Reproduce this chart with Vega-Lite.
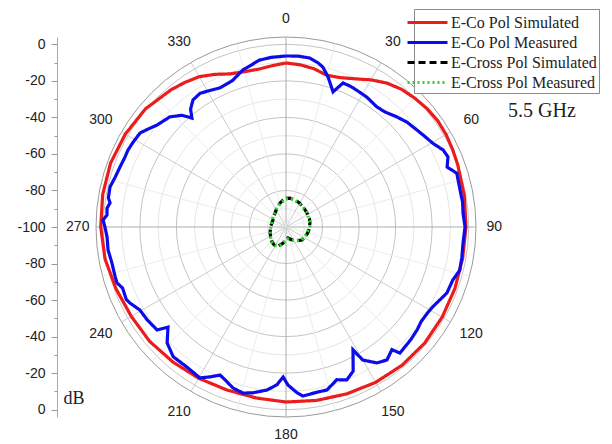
{
  "$schema": "https://vega.github.io/schema/vega-lite/v6.json",
  "width": 380,
  "height": 380,
  "autosize": {"type": "none"},
  "padding": {"left": 96, "top": 37, "right": 136, "bottom": 27},
  "background": "white",
  "config": {"view": {"stroke": null}, "font": "Liberation Sans"},
  "title": {"text": "5.5 GHz", "anchor": "start", "frame": "group", "orient": "top", "offset": 0, "dx": 412, "dy": 128, "baseline": "alphabetic", "font": "Liberation Serif", "fontSize": 20, "fontWeight": "normal", "color": "#222"},
  "resolve": {"axis": {"y": "independent"}},
  "datasets": {
    "rings": [{"r": 10}, {"r": 20}, {"r": 30}, {"r": 40}, {"r": 50}, {"r": 60}, {"r": 70}, {"r": 80}, {"r": 90}, {"r": 100}, {"r": 104}],
    "spokes": [{"a": 0}, {"a": 15}, {"a": 30}, {"a": 45}, {"a": 60}, {"a": 75}, {"a": 90}, {"a": 105}, {"a": 120}, {"a": 135}, {"a": 150}, {"a": 165}, {"a": 180}, {"a": 195}, {"a": 210}, {"a": 225}, {"a": 240}, {"a": 255}, {"a": 270}, {"a": 285}, {"a": 300}, {"a": 315}, {"a": 330}, {"a": 345}],
    "angles": [{"a": 0}, {"a": 30}, {"a": 60}, {"a": 90}, {"a": 120}, {"a": 150}, {"a": 180}, {"a": 210}, {"a": 240}, {"a": 270}, {"a": 300}, {"a": 330}],
    "pattern": [
      {"series": "E-Co Pol Simulated", "angle": 0, "dB": -10.2},
      {"series": "E-Co Pol Simulated", "angle": 5, "dB": -10.9},
      {"series": "E-Co Pol Simulated", "angle": 10, "dB": -12},
      {"series": "E-Co Pol Simulated", "angle": 15, "dB": -14},
      {"series": "E-Co Pol Simulated", "angle": 20, "dB": -13},
      {"series": "E-Co Pol Simulated", "angle": 25, "dB": -10.5},
      {"series": "E-Co Pol Simulated", "angle": 30, "dB": -7},
      {"series": "E-Co Pol Simulated", "angle": 35, "dB": -3.8},
      {"series": "E-Co Pol Simulated", "angle": 40, "dB": -1.6},
      {"series": "E-Co Pol Simulated", "angle": 45, "dB": -0.3},
      {"series": "E-Co Pol Simulated", "angle": 50, "dB": 0.8},
      {"series": "E-Co Pol Simulated", "angle": 55, "dB": 1.4},
      {"series": "E-Co Pol Simulated", "angle": 60, "dB": 1.2},
      {"series": "E-Co Pol Simulated", "angle": 65, "dB": 0.6},
      {"series": "E-Co Pol Simulated", "angle": 70, "dB": 0},
      {"series": "E-Co Pol Simulated", "angle": 80, "dB": -0.9},
      {"series": "E-Co Pol Simulated", "angle": 90, "dB": -1.5},
      {"series": "E-Co Pol Simulated", "angle": 100, "dB": -1.8},
      {"series": "E-Co Pol Simulated", "angle": 110, "dB": -1.6},
      {"series": "E-Co Pol Simulated", "angle": 120, "dB": -1.3},
      {"series": "E-Co Pol Simulated", "angle": 130, "dB": -1},
      {"series": "E-Co Pol Simulated", "angle": 140, "dB": -1.2},
      {"series": "E-Co Pol Simulated", "angle": 150, "dB": -1.8},
      {"series": "E-Co Pol Simulated", "angle": 160, "dB": -2.8},
      {"series": "E-Co Pol Simulated", "angle": 170, "dB": -3.6},
      {"series": "E-Co Pol Simulated", "angle": 180, "dB": -4.2},
      {"series": "E-Co Pol Simulated", "angle": 190, "dB": -5},
      {"series": "E-Co Pol Simulated", "angle": 200, "dB": -5.1},
      {"series": "E-Co Pol Simulated", "angle": 210, "dB": -4.4},
      {"series": "E-Co Pol Simulated", "angle": 220, "dB": -3.6},
      {"series": "E-Co Pol Simulated", "angle": 230, "dB": -2.6},
      {"series": "E-Co Pol Simulated", "angle": 240, "dB": -2.2},
      {"series": "E-Co Pol Simulated", "angle": 250, "dB": -1},
      {"series": "E-Co Pol Simulated", "angle": 260, "dB": 0.6},
      {"series": "E-Co Pol Simulated", "angle": 270, "dB": 1.4},
      {"series": "E-Co Pol Simulated", "angle": 280, "dB": 1.9},
      {"series": "E-Co Pol Simulated", "angle": 290, "dB": 2.2},
      {"series": "E-Co Pol Simulated", "angle": 300, "dB": 1.6},
      {"series": "E-Co Pol Simulated", "angle": 310, "dB": 0.5},
      {"series": "E-Co Pol Simulated", "angle": 320, "dB": -2},
      {"series": "E-Co Pol Simulated", "angle": 325, "dB": -3.4},
      {"series": "E-Co Pol Simulated", "angle": 330, "dB": -5},
      {"series": "E-Co Pol Simulated", "angle": 335, "dB": -7.8},
      {"series": "E-Co Pol Simulated", "angle": 340, "dB": -10.8},
      {"series": "E-Co Pol Simulated", "angle": 345, "dB": -12},
      {"series": "E-Co Pol Simulated", "angle": 350, "dB": -12.3},
      {"series": "E-Co Pol Simulated", "angle": 355, "dB": -11.4},
      {"series": "E-Co Pol Simulated", "angle": 360, "dB": -10.2},
      {"series": "E-Co Pol Measured", "angle": 0, "dB": -6.4},
      {"series": "E-Co Pol Measured", "angle": 4, "dB": -6.2},
      {"series": "E-Co Pol Measured", "angle": 8, "dB": -6.6},
      {"series": "E-Co Pol Measured", "angle": 11, "dB": -8.4},
      {"series": "E-Co Pol Measured", "angle": 13, "dB": -10.2},
      {"series": "E-Co Pol Measured", "angle": 15.6, "dB": -14.6},
      {"series": "E-Co Pol Measured", "angle": 17.5, "dB": -18.5},
      {"series": "E-Co Pol Measured", "angle": 19.2, "dB": -21.7},
      {"series": "E-Co Pol Measured", "angle": 21.6, "dB": -15.2},
      {"series": "E-Co Pol Measured", "angle": 24.5, "dB": -15.3},
      {"series": "E-Co Pol Measured", "angle": 27.4, "dB": -15.7},
      {"series": "E-Co Pol Measured", "angle": 32, "dB": -16.3},
      {"series": "E-Co Pol Measured", "angle": 37.2, "dB": -17.6},
      {"series": "E-Co Pol Measured", "angle": 41, "dB": -16.8},
      {"series": "E-Co Pol Measured", "angle": 45, "dB": -14.6},
      {"series": "E-Co Pol Measured", "angle": 49, "dB": -12.4},
      {"series": "E-Co Pol Measured", "angle": 53.5, "dB": -10.8},
      {"series": "E-Co Pol Measured", "angle": 57, "dB": -9.2},
      {"series": "E-Co Pol Measured", "angle": 60.3, "dB": -7.5},
      {"series": "E-Co Pol Measured", "angle": 63.9, "dB": -4.2},
      {"series": "E-Co Pol Measured", "angle": 66.6, "dB": -3.4},
      {"series": "E-Co Pol Measured", "angle": 69.6, "dB": -5.9},
      {"series": "E-Co Pol Measured", "angle": 72.5, "dB": -2},
      {"series": "E-Co Pol Measured", "angle": 78, "dB": -2.6},
      {"series": "E-Co Pol Measured", "angle": 82, "dB": -2.4},
      {"series": "E-Co Pol Measured", "angle": 85.5, "dB": -2.8},
      {"series": "E-Co Pol Measured", "angle": 90, "dB": -2},
      {"series": "E-Co Pol Measured", "angle": 95, "dB": -2.7},
      {"series": "E-Co Pol Measured", "angle": 100, "dB": -2.3},
      {"series": "E-Co Pol Measured", "angle": 104, "dB": -2},
      {"series": "E-Co Pol Measured", "angle": 107.6, "dB": -4.2},
      {"series": "E-Co Pol Measured", "angle": 112.3, "dB": -4.8},
      {"series": "E-Co Pol Measured", "angle": 118.6, "dB": -8.6},
      {"series": "E-Co Pol Measured", "angle": 122, "dB": -9.5},
      {"series": "E-Co Pol Measured", "angle": 125, "dB": -9.7},
      {"series": "E-Co Pol Measured", "angle": 128, "dB": -8.8},
      {"series": "E-Co Pol Measured", "angle": 132, "dB": -8},
      {"series": "E-Co Pol Measured", "angle": 135, "dB": -7.6},
      {"series": "E-Co Pol Measured", "angle": 137.9, "dB": -7},
      {"series": "E-Co Pol Measured", "angle": 139.2, "dB": -11.3},
      {"series": "E-Co Pol Measured", "angle": 142.8, "dB": -8.6},
      {"series": "E-Co Pol Measured", "angle": 146.2, "dB": -10.5},
      {"series": "E-Co Pol Measured", "angle": 150, "dB": -15.9},
      {"series": "E-Co Pol Measured", "angle": 151.4, "dB": -23.4},
      {"series": "E-Co Pol Measured", "angle": 155, "dB": -13},
      {"series": "E-Co Pol Measured", "angle": 158.3, "dB": -9.9},
      {"series": "E-Co Pol Measured", "angle": 161.6, "dB": -11.9},
      {"series": "E-Co Pol Measured", "angle": 165.9, "dB": -8},
      {"series": "E-Co Pol Measured", "angle": 169.4, "dB": -8},
      {"series": "E-Co Pol Measured", "angle": 174.3, "dB": -7},
      {"series": "E-Co Pol Measured", "angle": 176.2, "dB": -9.1},
      {"series": "E-Co Pol Measured", "angle": 179.3, "dB": -13.5},
      {"series": "E-Co Pol Measured", "angle": 181.1, "dB": -17.9},
      {"series": "E-Co Pol Measured", "angle": 183.3, "dB": -13.5},
      {"series": "E-Co Pol Measured", "angle": 186.6, "dB": -10.2},
      {"series": "E-Co Pol Measured", "angle": 191.2, "dB": -7.5},
      {"series": "E-Co Pol Measured", "angle": 194.5, "dB": -6.1},
      {"series": "E-Co Pol Measured", "angle": 198.2, "dB": -7.2},
      {"series": "E-Co Pol Measured", "angle": 201.7, "dB": -9.9},
      {"series": "E-Co Pol Measured", "angle": 204, "dB": -11.3},
      {"series": "E-Co Pol Measured", "angle": 206.9, "dB": -8},
      {"series": "E-Co Pol Measured", "angle": 209.7, "dB": -4.9},
      {"series": "E-Co Pol Measured", "angle": 215.3, "dB": -6.1},
      {"series": "E-Co Pol Measured", "angle": 221, "dB": -5.9},
      {"series": "E-Co Pol Measured", "angle": 225.7, "dB": -9.1},
      {"series": "E-Co Pol Measured", "angle": 229.7, "dB": -15.3},
      {"series": "E-Co Pol Measured", "angle": 231.4, "dB": -9.7},
      {"series": "E-Co Pol Measured", "angle": 236.2, "dB": -8.6},
      {"series": "E-Co Pol Measured", "angle": 240.4, "dB": -8},
      {"series": "E-Co Pol Measured", "angle": 244, "dB": -5},
      {"series": "E-Co Pol Measured", "angle": 245.6, "dB": -4},
      {"series": "E-Co Pol Measured", "angle": 249.5, "dB": -4.5},
      {"series": "E-Co Pol Measured", "angle": 251.7, "dB": -2.6},
      {"series": "E-Co Pol Measured", "angle": 253.7, "dB": -2.6},
      {"series": "E-Co Pol Measured", "angle": 258.3, "dB": -2.7},
      {"series": "E-Co Pol Measured", "angle": 262.6, "dB": -1.8},
      {"series": "E-Co Pol Measured", "angle": 266.8, "dB": -1.9},
      {"series": "E-Co Pol Measured", "angle": 270, "dB": -0.9},
      {"series": "E-Co Pol Measured", "angle": 272.2, "dB": 0.2},
      {"series": "E-Co Pol Measured", "angle": 273.8, "dB": -1.8},
      {"series": "E-Co Pol Measured", "angle": 276, "dB": -1.5},
      {"series": "E-Co Pol Measured", "angle": 277.8, "dB": -2.8},
      {"series": "E-Co Pol Measured", "angle": 279.3, "dB": -1.5},
      {"series": "E-Co Pol Measured", "angle": 282.8, "dB": -1.2},
      {"series": "E-Co Pol Measured", "angle": 286.3, "dB": -2.6},
      {"series": "E-Co Pol Measured", "angle": 289.9, "dB": -3.4},
      {"series": "E-Co Pol Measured", "angle": 293.5, "dB": -3.9},
      {"series": "E-Co Pol Measured", "angle": 296, "dB": -3.8},
      {"series": "E-Co Pol Measured", "angle": 299, "dB": -4.3},
      {"series": "E-Co Pol Measured", "angle": 302.8, "dB": -5},
      {"series": "E-Co Pol Measured", "angle": 305.5, "dB": -7.5},
      {"series": "E-Co Pol Measured", "angle": 308.3, "dB": -10},
      {"series": "E-Co Pol Measured", "angle": 313.5, "dB": -12.4},
      {"series": "E-Co Pol Measured", "angle": 317, "dB": -16.4},
      {"series": "E-Co Pol Measured", "angle": 319.2, "dB": -21.2},
      {"series": "E-Co Pol Measured", "angle": 321, "dB": -17},
      {"series": "E-Co Pol Measured", "angle": 323.8, "dB": -13.8},
      {"series": "E-Co Pol Measured", "angle": 327.3, "dB": -13},
      {"series": "E-Co Pol Measured", "angle": 331, "dB": -14.5},
      {"series": "E-Co Pol Measured", "angle": 334.6, "dB": -15.7},
      {"series": "E-Co Pol Measured", "angle": 340, "dB": -14.6},
      {"series": "E-Co Pol Measured", "angle": 344.7, "dB": -10.8},
      {"series": "E-Co Pol Measured", "angle": 351, "dB": -7.5},
      {"series": "E-Co Pol Measured", "angle": 355, "dB": -6.8},
      {"series": "E-Co Pol Measured", "angle": 360, "dB": -6.4},
      {"series": "E-Cross Pol Simulated", "angle": 0, "dB": -84.3},
      {"series": "E-Cross Pol Simulated", "angle": 8, "dB": -84},
      {"series": "E-Cross Pol Simulated", "angle": 20, "dB": -84.5},
      {"series": "E-Cross Pol Simulated", "angle": 30, "dB": -85},
      {"series": "E-Cross Pol Simulated", "angle": 45, "dB": -85.8},
      {"series": "E-Cross Pol Simulated", "angle": 56, "dB": -86.2},
      {"series": "E-Cross Pol Simulated", "angle": 70, "dB": -86.4},
      {"series": "E-Cross Pol Simulated", "angle": 80, "dB": -86.7},
      {"series": "E-Cross Pol Simulated", "angle": 95, "dB": -87.2},
      {"series": "E-Cross Pol Simulated", "angle": 103, "dB": -87.6},
      {"series": "E-Cross Pol Simulated", "angle": 115, "dB": -88},
      {"series": "E-Cross Pol Simulated", "angle": 129, "dB": -88.7},
      {"series": "E-Cross Pol Simulated", "angle": 142, "dB": -90.5},
      {"series": "E-Cross Pol Simulated", "angle": 155, "dB": -92.2},
      {"series": "E-Cross Pol Simulated", "angle": 170, "dB": -93.9},
      {"series": "E-Cross Pol Simulated", "angle": 180, "dB": -93},
      {"series": "E-Cross Pol Simulated", "angle": 190, "dB": -91.1},
      {"series": "E-Cross Pol Simulated", "angle": 204, "dB": -88},
      {"series": "E-Cross Pol Simulated", "angle": 215, "dB": -88.3},
      {"series": "E-Cross Pol Simulated", "angle": 223, "dB": -88.8},
      {"series": "E-Cross Pol Simulated", "angle": 235, "dB": -89.8},
      {"series": "E-Cross Pol Simulated", "angle": 249, "dB": -90.7},
      {"series": "E-Cross Pol Simulated", "angle": 270, "dB": -91.5},
      {"series": "E-Cross Pol Simulated", "angle": 298, "dB": -91.9},
      {"series": "E-Cross Pol Simulated", "angle": 310, "dB": -91.2},
      {"series": "E-Cross Pol Simulated", "angle": 322, "dB": -90.3},
      {"series": "E-Cross Pol Simulated", "angle": 335, "dB": -88.3},
      {"series": "E-Cross Pol Simulated", "angle": 346, "dB": -86.5},
      {"series": "E-Cross Pol Simulated", "angle": 354, "dB": -85.1},
      {"series": "E-Cross Pol Simulated", "angle": 360, "dB": -84.3},
      {"series": "E-Cross Pol Measured", "angle": 0, "dB": -84.6},
      {"series": "E-Cross Pol Measured", "angle": 10, "dB": -84.2},
      {"series": "E-Cross Pol Measured", "angle": 25, "dB": -85},
      {"series": "E-Cross Pol Measured", "angle": 40, "dB": -85.6},
      {"series": "E-Cross Pol Measured", "angle": 56, "dB": -86},
      {"series": "E-Cross Pol Measured", "angle": 70, "dB": -86.8},
      {"series": "E-Cross Pol Measured", "angle": 85, "dB": -86.5},
      {"series": "E-Cross Pol Measured", "angle": 100, "dB": -87.8},
      {"series": "E-Cross Pol Measured", "angle": 115, "dB": -88.4},
      {"series": "E-Cross Pol Measured", "angle": 130, "dB": -88.9},
      {"series": "E-Cross Pol Measured", "angle": 145, "dB": -90.8},
      {"series": "E-Cross Pol Measured", "angle": 160, "dB": -92.5},
      {"series": "E-Cross Pol Measured", "angle": 172, "dB": -93.5},
      {"series": "E-Cross Pol Measured", "angle": 185, "dB": -92.2},
      {"series": "E-Cross Pol Measured", "angle": 198, "dB": -89.5},
      {"series": "E-Cross Pol Measured", "angle": 210, "dB": -88.2},
      {"series": "E-Cross Pol Measured", "angle": 225, "dB": -88.6},
      {"series": "E-Cross Pol Measured", "angle": 240, "dB": -90.2},
      {"series": "E-Cross Pol Measured", "angle": 255, "dB": -91},
      {"series": "E-Cross Pol Measured", "angle": 275, "dB": -91.8},
      {"series": "E-Cross Pol Measured", "angle": 295, "dB": -91.6},
      {"series": "E-Cross Pol Measured", "angle": 315, "dB": -90.6},
      {"series": "E-Cross Pol Measured", "angle": 330, "dB": -89},
      {"series": "E-Cross Pol Measured", "angle": 345, "dB": -86.8},
      {"series": "E-Cross Pol Measured", "angle": 360, "dB": -84.6}
    ]
  },
  "layer": [
    {
      "data": {"name": "rings"},
      "transform": [
        {"calculate": "0", "as": "cx"},
        {"calculate": "pow(2 * datum.r * 190 / 104, 2)", "as": "sz"}
      ],
      "mark": {"type": "point", "shape": "circle", "filled": false, "strokeWidth": 1, "opacity": 1},
      "encoding": {
        "x": {"field": "cx", "type": "quantitative", "scale": {"domain": [-104, 104], "nice": false, "zero": false}, "axis": null},
        "y": {"field": "cx", "type": "quantitative", "scale": {"domain": [-104, 104], "nice": false, "zero": false},
          "axis": {
            "orient": "left", "offset": 39,
            "values": [-100, -80, -60, -40, -20, 0, 20, 40, 60, 80, 100],
            "labelExpr": "'' + (abs(datum.value) - 100)",
            "tickSize": 6,
            "labelFont": "Liberation Sans", "labelFontSize": 14, "labelColor": "#222", "labelPadding": 6, "labelOverlap": false, "labelFlush": false,
            "domainColor": "#aaaaaa", "tickColor": "#999999", "grid": false,
            "title": "dB", "titleFont": "Liberation Serif", "titleFontSize": 18, "titleFontWeight": "normal", "titleColor": "#222",
            "titleAngle": 0, "titleAlign": "left", "titleBaseline": "alphabetic", "titleX": 6, "titleY": 366
          }
        },
        "size": {"field": "sz", "type": "quantitative", "scale": null, "legend": null},
        "stroke": {"condition": [{"test": "datum.r == 104", "value": "#9a9a9a"}, {"test": "datum.r % 20 == 0", "value": "#c4c4c4"}], "value": "#e6e6e6"}
      }
    },
    {
      "data": {"name": "spokes"},
      "transform": [
        {"calculate": "0", "as": "cx"},
        {"calculate": "104 * sin(datum.a * PI / 180)", "as": "ex"},
        {"calculate": "104 * cos(datum.a * PI / 180)", "as": "ey"}
      ],
      "mark": {"type": "rule", "strokeWidth": 1},
      "encoding": {
        "x": {"field": "cx", "type": "quantitative", "scale": {"domain": [-104, 104], "nice": false, "zero": false}, "axis": null},
        "y": {"field": "cx", "type": "quantitative", "scale": {"domain": [-104, 104], "nice": false, "zero": false},
          "axis": {
            "orient": "left", "offset": 39,
            "values": [-90, -70, -50, -30, -10, 10, 30, 50, 70, 90],
            "labels": false, "domain": false, "grid": false, "tickSize": 3, "tickColor": "#999999", "title": null
          }
        },
        "x2": {"field": "ex"},
        "y2": {"field": "ey"},
        "color": {"condition": [{"test": "datum.a % 90 == 0", "value": "#ababab"}, {"test": "datum.a % 30 == 0", "value": "#cccccc"}], "value": "#ececec"}
      }
    },
    {
      "data": {"name": "angles"},
      "transform": [
        {"calculate": "(114 + 3.5 * abs(sin(datum.a * PI / 90))) * sin(datum.a * PI / 180)", "as": "tx"},
        {"calculate": "(114 + 3.5 * abs(sin(datum.a * PI / 90))) * cos(datum.a * PI / 180)", "as": "ty"}
      ],
      "mark": {"type": "text", "font": "Liberation Sans", "fontSize": 14, "color": "#222", "align": "center", "baseline": "middle"},
      "encoding": {
        "x": {"field": "tx", "type": "quantitative", "scale": {"domain": [-104, 104], "nice": false, "zero": false}, "axis": null},
        "y": {"field": "ty", "type": "quantitative", "scale": {"domain": [-104, 104], "nice": false, "zero": false}, "axis": null},
        "text": {"field": "a", "type": "quantitative", "format": "d"}
      }
    },
    {
      "data": {"name": "pattern"},
      "transform": [
        {"calculate": "(datum.dB + 100) * sin(datum.angle * PI / 180)", "as": "px"},
        {"calculate": "(datum.dB + 100) * cos(datum.angle * PI / 180)", "as": "py"}
      ],
      "mark": {"type": "line", "strokeWidth": 3.2, "interpolate": "linear"},
      "encoding": {
        "x": {"field": "px", "type": "quantitative", "scale": {"domain": [-104, 104], "nice": false, "zero": false}, "axis": null},
        "y": {"field": "py", "type": "quantitative", "scale": {"domain": [-104, 104], "nice": false, "zero": false}, "axis": null},
        "order": {"field": "angle", "type": "quantitative"},
        "color": {
          "field": "series", "type": "nominal",
          "scale": {"domain": ["E-Co Pol Simulated", "E-Co Pol Measured", "E-Cross Pol Simulated", "E-Cross Pol Measured"], "range": ["#ec1c1c", "#0b0bec", "#000000", "#2ed12e"]},
          "legend": {"orient": "none", "legendX": 318, "legendY": -28, "title": null, "strokeColor": "#8a8a8a", "fillColor": "white", "padding": 2, "symbolType": "M-2,0H2", "symbolSize": 400, "symbolStrokeWidth": 3, "labelFont": "Liberation Serif", "labelFontSize": 16, "labelColor": "#222", "labelOffset": 12, "rowPadding": 0, "labelLimit": 300}
        },
        "strokeDash": {
          "field": "series", "type": "nominal",
          "scale": {"domain": ["E-Co Pol Simulated", "E-Co Pol Measured", "E-Cross Pol Simulated", "E-Cross Pol Measured"], "range": [[1, 0], [1, 0], [7, 4], [2, 3]]},
          "legend": {"orient": "none", "legendX": 318, "legendY": -28, "title": null, "strokeColor": "#8a8a8a", "fillColor": "white", "padding": 2, "symbolType": "M-2,0H2", "symbolSize": 400, "symbolStrokeWidth": 3, "labelFont": "Liberation Serif", "labelFontSize": 16, "labelColor": "#222", "labelOffset": 12, "rowPadding": 0, "labelLimit": 300}
        }
      }
    }
  ]
}
